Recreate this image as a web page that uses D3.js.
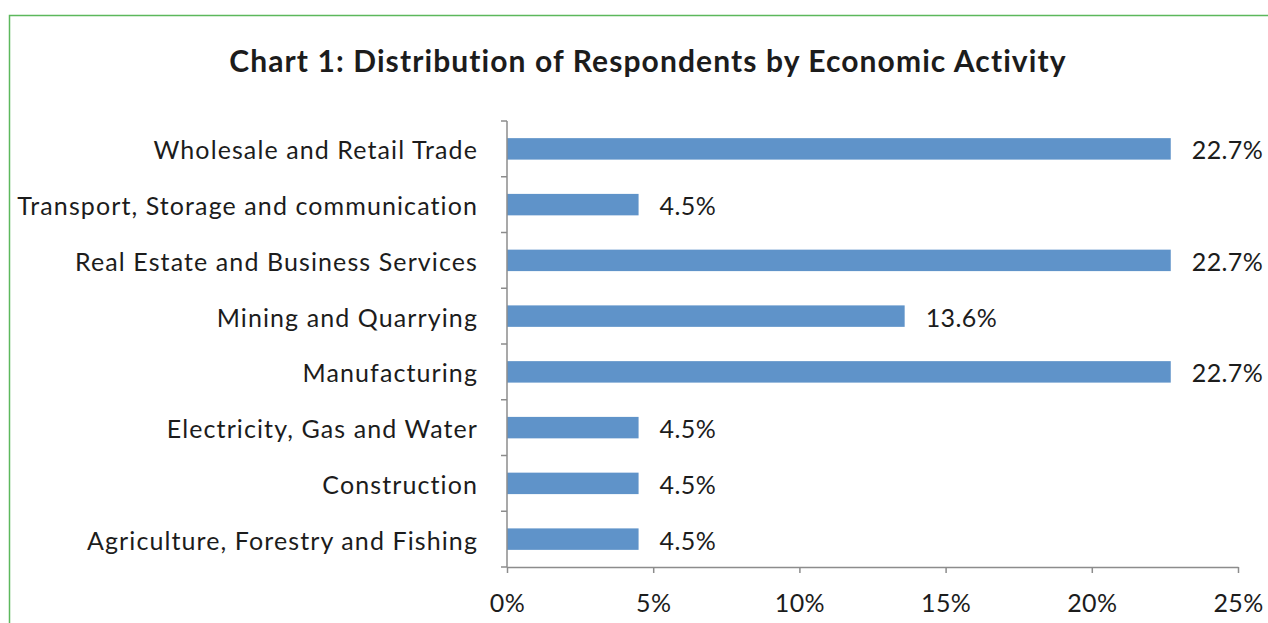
<!DOCTYPE html>
<html>
<head>
<meta charset="utf-8">
<script src="https://cdn.jsdelivr.net/npm/d3@7"></script>
<style>
  html, body { margin: 0; padding: 0; background: #fff; }
  svg { display: block; }
  text { font-family: Lato, "Open Sans", sans-serif; fill: #1c1c1c; }
</style>
</head>
<body>
<svg id="chart" width="1268" height="623"></svg>
<script>
// Share of respondents by economic activity (top to bottom)
const categories = [
  "Wholesale and Retail Trade",
  "Transport, Storage and communication",
  "Real Estate and Business Services",
  "Mining and Quarrying",
  "Manufacturing",
  "Electricity, Gas and Water",
  "Construction",
  "Agriculture, Forestry and Fishing"
];
const shares = [22.7, 4.5, 22.7, 13.6, 22.7, 4.5, 4.5, 4.5];
const tickValues = [0, 5, 10, 15, 20, 25];
const title = "Chart 1: Distribution of Respondents by Economic Activity";

const svg = d3.select("#chart");
const W = 1268, H = 623;
const FONT = "Lato, 'Open Sans', sans-serif";

// outer frame
svg.append("rect")
  .attr("x", 9.5).attr("y", 15.5)
  .attr("width", W + 20).attr("height", H + 20)
  .attr("fill", "none").attr("stroke", "#5cb85c").attr("stroke-width", 1.5);

const plot = { left: 507, right: 1238, top: 121, bottom: 567 };

const x = d3.scaleLinear().domain([0, 25]).range([plot.left, plot.right]);
const y = d3.scaleBand().domain(categories).range([plot.top, plot.bottom])
  .paddingInner(0.615).paddingOuter(0.3075);

// title
svg.append("text")
  .attr("x", 648).attr("y", 72)
  .attr("text-anchor", "middle")
  .style("font-size", "30px").style("font-weight", "bold")
  .style("letter-spacing", "1.1px")
  .text(title);

// bars
svg.append("g").selectAll("rect")
  .data(categories)
  .join("rect")
  .attr("x", x(0))
  .attr("y", d => y(d))
  .attr("width", (d, i) => x(shares[i]) - x(0))
  .attr("height", y.bandwidth())
  .attr("fill", "#5f93c9");

// value labels
svg.append("g").selectAll("text")
  .data(categories)
  .join("text")
  .attr("x", (d, i) => x(shares[i]) + 21)
  .attr("y", d => y(d) + y.bandwidth() / 2)
  .attr("dy", "0.42em")
  .style("font-size", "25px")
  .style("letter-spacing", "0.4px")
  .text((d, i) => shares[i].toFixed(1) + "%");

// x axis
const xAxis = svg.append("g")
  .attr("transform", `translate(0,${plot.bottom})`)
  .call(d3.axisBottom(x).tickValues(tickValues).tickSize(6).tickSizeOuter(0).tickPadding(21)
    .tickFormat(d => d + "%"));
xAxis.select(".domain").attr("stroke", "#8c8c8c").attr("stroke-width", 1.5);
xAxis.selectAll(".tick line").attr("stroke", "#8c8c8c").attr("stroke-width", 1.5);
xAxis.selectAll(".tick text").style("font-size", "25px").attr("fill", "#1c1c1c")
  .style("letter-spacing", "0.4px")
  .style("font-family", FONT);

// y axis: category boundaries as ticks
const bandStep = (plot.bottom - plot.top) / categories.length;
const yAxisG = svg.append("g");
yAxisG.append("line")
  .attr("x1", plot.left).attr("x2", plot.left)
  .attr("y1", plot.top).attr("y2", plot.bottom)
  .attr("stroke", "#8c8c8c").attr("stroke-width", 1.5);
yAxisG.selectAll("line.tk")
  .data(d3.range(categories.length + 1))
  .join("line").attr("class", "tk")
  .attr("x1", plot.left - 6).attr("x2", plot.left)
  .attr("y1", i => plot.top + i * bandStep)
  .attr("y2", i => plot.top + i * bandStep)
  .attr("stroke", "#8c8c8c").attr("stroke-width", 1.5);

// category labels
svg.append("g").selectAll("text")
  .data(categories)
  .join("text")
  .attr("x", 478)
  .attr("y", d => y(d) + y.bandwidth() / 2)
  .attr("dy", "0.42em")
  .attr("text-anchor", "end")
  .style("font-size", "25px")
  .style("letter-spacing", "1.1px")
  .text(d => d);
</script>
</body>
</html>
